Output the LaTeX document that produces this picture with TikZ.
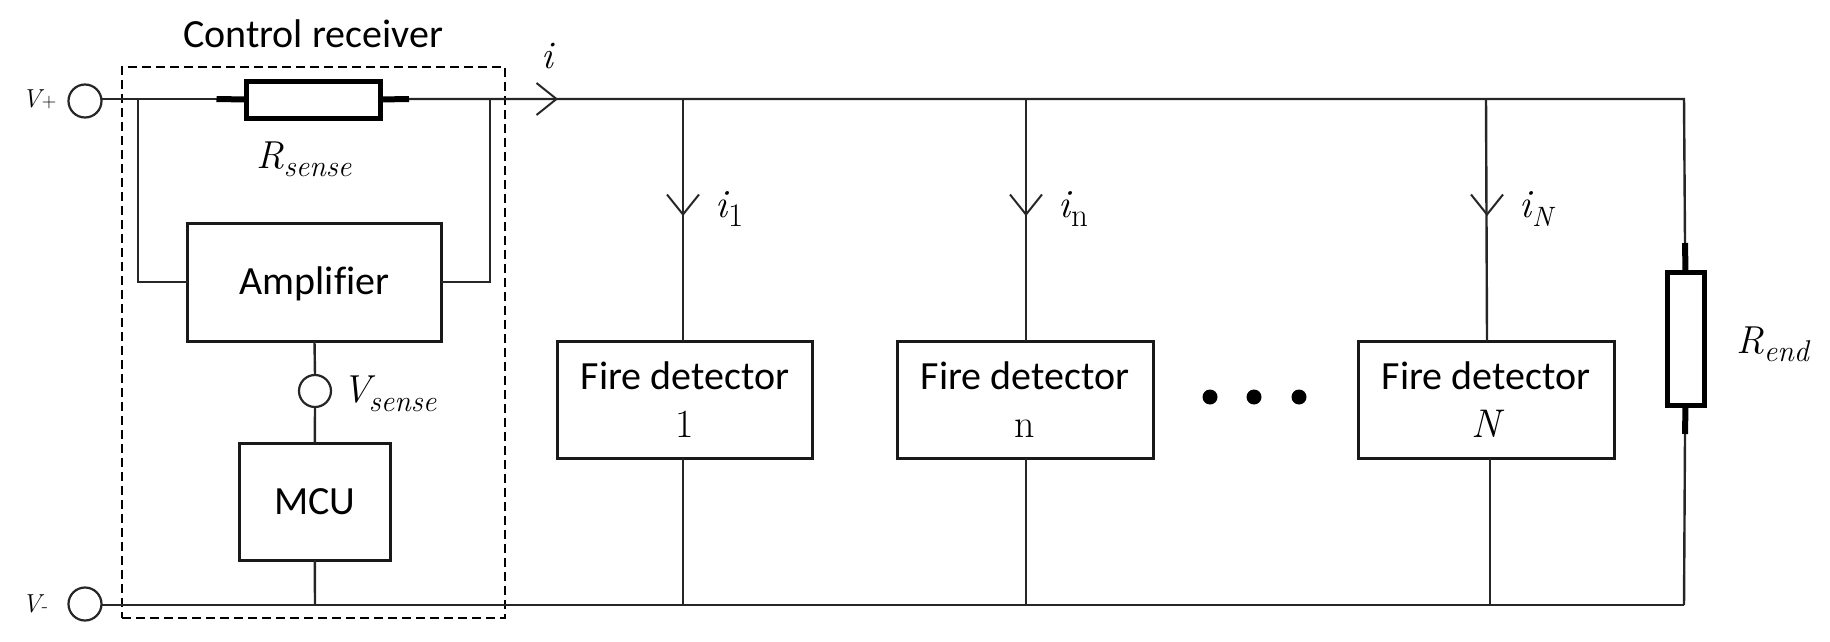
\documentclass[tikz,border=0pt]{standalone}
\usepackage{fontspec}
\usetikzlibrary{calc}
\newfontfamily\uifont[Ligatures=NoCommon]{Carlito}
\newcommand{\fs}[1]{\fontsize{#1}{#1}\selectfont}
\newcommand{\sublab}[4]{{\rmfamily\itshape\fs{39}#1}\hspace{#3}\raisebox{#4}{\rmfamily\itshape\fs{30}\addfontfeatures{LetterSpace=6}#2}}
\newcommand{\curlab}[3]{{\rmfamily\itshape\fs{40}i}\hspace{1pt}\raisebox{-9pt}{\rmfamily\fs{#3}#1#2}}
\tikzset{
  wire/.style={line width=2.4pt,draw=black!85},
  lead/.style={line width=6pt,draw=black},
  boxn/.style={draw=black!90,line width=3pt,inner sep=0pt,outer sep=0pt,align=center,font=\uifont\fs{40}},
  res/.style={draw=black,line width=5pt,inner sep=0pt,outer sep=0pt,fill=white},
  term/.style={circle,draw=black!85,line width=2.2pt,inner sep=0pt,outer sep=0pt,minimum size=33pt},
  dashbox/.style={draw=black,line width=1.8pt,dash pattern=on 9pt off 5pt,inner sep=0pt,outer sep=0pt},
  lab/.style={anchor=base west,inner sep=0pt,outer sep=0pt},
  tipline/.style={line width=2pt,draw=black!85},
  dotn/.style={circle,fill=black,inner sep=0pt,minimum size=15pt}
}
\begin{document}
\begin{tikzpicture}[x=1pt,y=-1pt]
\useasboundingbox (0,0) rectangle (1830,642);
% nodes
\node[dashbox,minimum width=383pt,minimum height=551pt] (cr) at (313.5,342.5) {};
\node[term] (vp) at (85,101) {};
\node[term] (vm) at (85,604) {};
\node[term,minimum size=32pt] (vs) at (315,391) {};
\node[res,minimum width=134pt,minimum height=37pt] (rs) at (313,99.5) {};
\node[res,minimum width=37pt,minimum height=133pt] (re) at (1685.5,338.5) {};
\node[boxn,minimum width=253.5pt,minimum height=118pt] (amp) at (314.5,282) {\smash{\raisebox{-12pt}{Amplifier}}};
\node[boxn,minimum width=151.5pt,minimum height=117pt] (mcu) at (314.8,501.5) {MCU};
\node[boxn,minimum width=255pt,minimum height=117pt] (b1) at (685,399.5) {Fire detector\\[8pt]{\rmfamily 1}};
\node[boxn,minimum width=256pt,minimum height=117pt] (b2) at (1025,399.5) {Fire detector\\[8pt]{\rmfamily n}};
\node[boxn,minimum width=256pt,minimum height=117pt] (b3) at (1486,399.5) {Fire detector\\[8pt]{\rmfamily\itshape N}};
\node[dotn] (d1) at (1210,397) {};
\node[dotn] (d2) at (1254,397) {};
\node[dotn] (d3) at (1299,397) {};
% coordinates
\coordinate (tl) at (138,99);
\coordinate (tr) at (490,99);
\coordinate (ai) at (556.5,99);
\coordinate (te) at (1684,99);
\coordinate (ge) at (1684,605);
\coordinate (t1) at (683,99);
\coordinate (t2) at (1026,99);
\coordinate (t3) at (1486,99);
\coordinate (g1) at (683,605);
\coordinate (g2) at (1026,605);
\coordinate (g3) at (1490,605);
\coordinate (gm) at (315,605);
\coordinate (a1) at (683,214.5);
\coordinate (a2) at (1026,214.5);
\coordinate (a3) at (1487,214.5);
\coordinate (ll) at (216.5,99);
\coordinate (lr) at (409,99);
\coordinate (lt) at (1685,243);
\coordinate (lb) at (1685,434);
% wires
\draw[wire] (vp.east |- tl) -- (ll);
\draw[wire] (lr) -- (te) -- (lt);
\draw[wire] (lb) -- (ge);
\draw[wire] (vm.east |- ge) -- (ge);
\draw[wire] (tl) |- (amp.west);
\draw[wire] (tr) |- (amp.east);
\draw[wire] (amp.south) -- (vs.north);
\draw[wire] (vs.south) -- (mcu.north);
\draw[wire] (mcu.south) -- (gm);
\draw[wire] (t1) -- (t1 |- b1.north);
\draw[wire] (t2) -- (t2 |- b2.north);
\draw[wire] (t3) -- (a3 |- b3.north);
\draw[wire] (g1 |- b1.south) -- (g1);
\draw[wire] (g2 |- b2.south) -- (g2);
\draw[wire] (g3 |- b3.south) -- (g3);
% resistor leads
\draw[lead] (ll) -- (rs.west);
\draw[lead] (rs.east) -- (lr);
\draw[lead] (lt) -- (re.north);
\draw[lead] (re.south) -- (lb);
% open arrowheads
\draw[tipline] ($(ai)+(-20,-16)$) -- (ai) -- ($(ai)+(-20,16)$);
\draw[tipline] ($(a1)+(-16,-20)$) -- (a1) -- ($(a1)+(16,-20)$);
\draw[tipline] ($(a2)+(-16,-20)$) -- (a2) -- ($(a2)+(16,-20)$);
\draw[tipline] ($(a3)+(-16,-20)$) -- (a3) -- ($(a3)+(16,-20)$);
% labels
\node[anchor=base,inner sep=0pt,font=\uifont\fs{40}] (crl) at (313,48) {Control receiver};
\node[lab,font=\rmfamily\itshape\fs{39}] (li) at (541,68) {i};
\node[lab,font=\rmfamily\itshape\fs{26}] (lvp) at (22,107) {V\hspace{1pt}{\fs{20}\upshape+}};
\node[lab,font=\rmfamily\itshape\fs{26}] (lvm) at (22,612) {V\hspace{1pt}{\fs{20}\upshape-}};
\node[lab] (lrs) at (256,168) {\sublab{R}{sense}{0pt}{-8pt}};
\node[lab] (lvs) at (342,402) {\sublab{V}{sense}{-1.5pt}{-9pt}};
\node[lab] (l1) at (715,217) {\curlab{}{1}{33}};
\node[lab] (l2) at (1058,217) {\curlab{}{n}{33}};
\node[lab] (l3) at (1519,217) {\curlab{\itshape}{N}{28}};
\node[lab] (lre) at (1736,353) {\sublab{R}{end}{0pt}{-8pt}};
\end{tikzpicture}
\end{document}
